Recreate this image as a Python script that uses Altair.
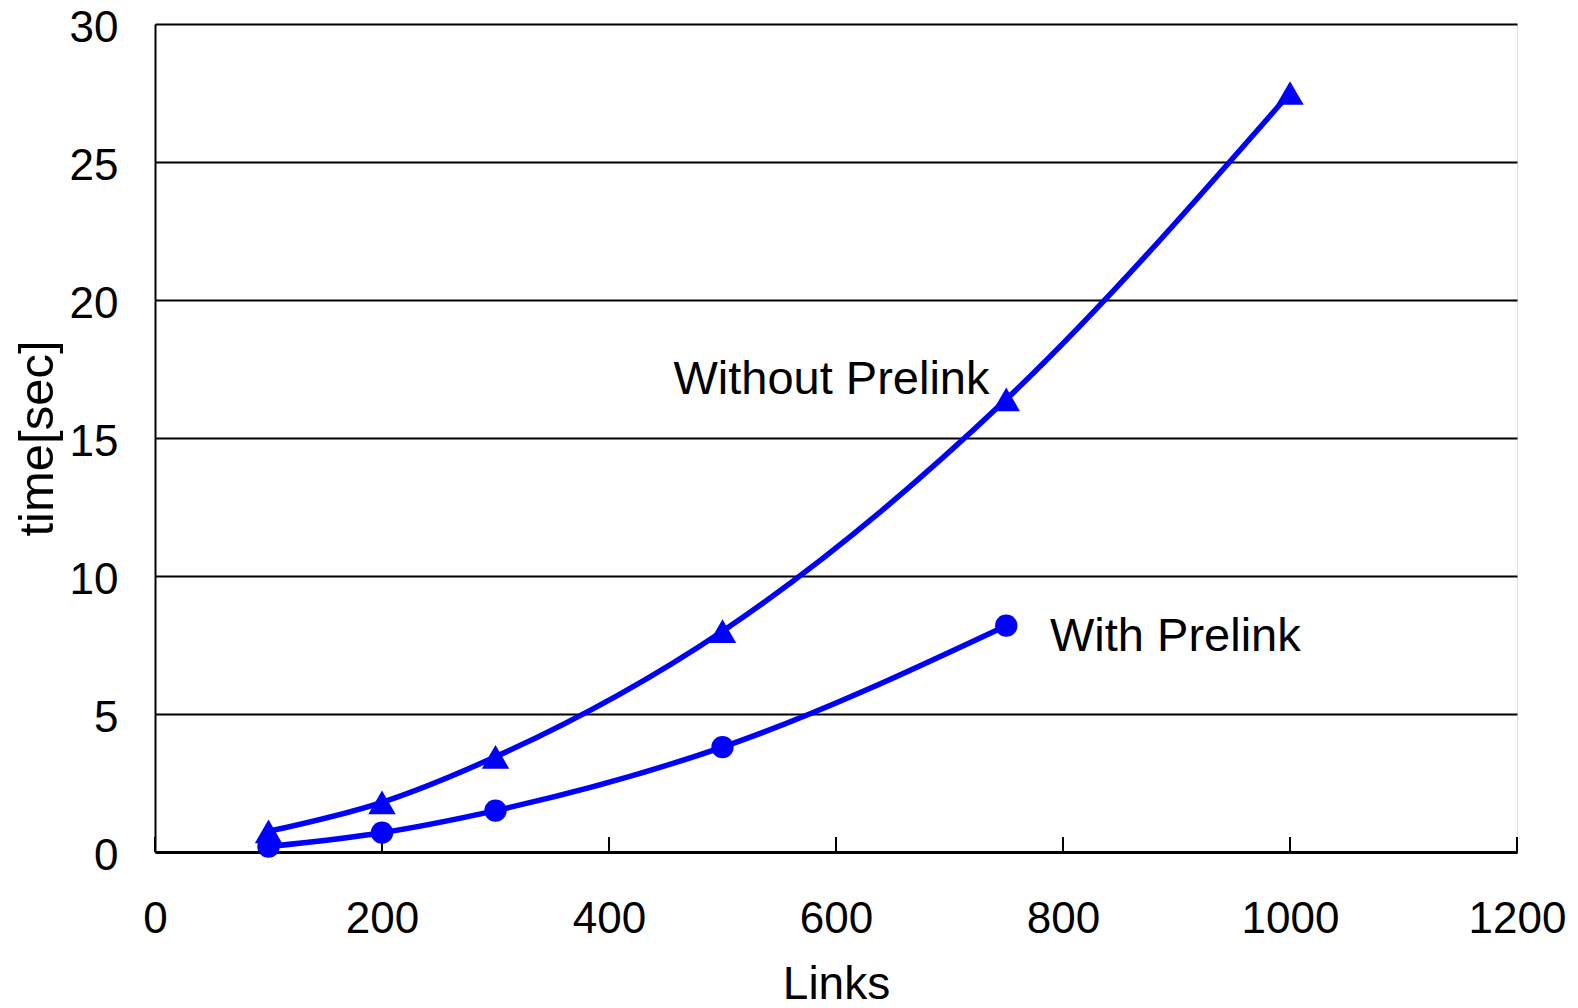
import altair as alt
import pandas as pd

links_without = [100, 200, 300, 500, 750, 1000]
time_without = [0.75, 1.8, 3.45, 8.0, 16.4, 27.5]
links_with = [100, 200, 300, 500, 750]
time_with = [0.2, 0.7, 1.5, 3.8, 8.2]

x_ticks = [0, 200, 400, 600, 800, 1000, 1200]
y_ticks = [0, 5, 10, 15, 20, 25, 30]

label_text = ["Without Prelink", "With Prelink"]
label_x = [596, 899]
label_y = [17.1, 7.8]

df = pd.concat([
    pd.DataFrame({"Links": links_without, "time": time_without, "series": "Without Prelink"}),
    pd.DataFrame({"Links": links_with, "time": time_with, "series": "With Prelink"}),
])
df_lab = pd.DataFrame({"text": label_text, "x": label_x, "y": label_y})
df_ticks = pd.DataFrame({"t": x_ticks})

FONT = "Liberation Sans, Arial"
BLUE = "#0000FF"

xs = alt.Scale(domain=[0, 1200], nice=False, zero=False)
ys = alt.Scale(domain=[0, 30], nice=False)

x_axis = alt.Axis(values=x_ticks, format="d", grid=False, ticks=False, domainColor="black", domainWidth=3,
                  labelFont=FONT, labelFontSize=44, labelColor="black", labelPadding=45,
                  title="Links", titleFont=FONT, titleFontSize=46, titleFontWeight="normal",
                  titleColor="black", titlePadding=21, labelFlush=False, labelOverlap=False)
y_axis = alt.Axis(values=y_ticks, grid=True, gridColor="black", gridWidth=2, gridOpacity=1,
                  ticks=False, domainColor="black", domainWidth=2,
                  labelFont=FONT, labelFontSize=44, labelColor="black", labelPadding=37,
                  labelOffset=4,
                  title="time[sec]", titleFont=FONT, titleFontSize=49, titleFontWeight="normal",
                  titleColor="black", titlePadding=7, labelFlush=False, labelOverlap=False)

base = alt.Chart(df)

lines = base.mark_line(interpolate="monotone", strokeWidth=5.5, color=BLUE).encode(
    x=alt.X("Links:Q", scale=xs, axis=x_axis),
    y=alt.Y("time:Q", scale=ys, axis=y_axis),
    detail="series:N",
)

tri = alt.Chart(df[df.series == "Without Prelink"]).mark_point(
    shape="triangle-up", filled=True, size=750, color=BLUE, opacity=1
).encode(x=alt.X("Links:Q", scale=xs), y=alt.Y("time:Q", scale=ys))

circ = alt.Chart(df[df.series == "With Prelink"]).mark_point(
    shape="circle", filled=True, size=500, color=BLUE, opacity=1
).encode(x=alt.X("Links:Q", scale=xs), y=alt.Y("time:Q", scale=ys))

labels = alt.Chart(df_lab).mark_text(
    font=FONT, fontSize=47, color="black", align="center", baseline="middle"
).encode(x=alt.X("x:Q", scale=xs), y=alt.Y("y:Q", scale=ys), text="text:N")

ticks = alt.Chart(df_ticks).mark_rule(color="black", strokeWidth=2).encode(
    x=alt.X("t:Q", scale=xs), y=alt.value(828), y2=alt.value(813)
)

chart = alt.layer(ticks, lines, tri, circ, labels).properties(
    width=1362, height=828,
    autosize=alt.AutoSizeParams(type="none"),
    padding={"left": 155, "top": 24, "right": 61, "bottom": 156},
).configure_view(stroke="black", strokeWidth=2).configure(background="white")

chart.save("out.html", embed_options={"renderer": "svg", "actions": False})
